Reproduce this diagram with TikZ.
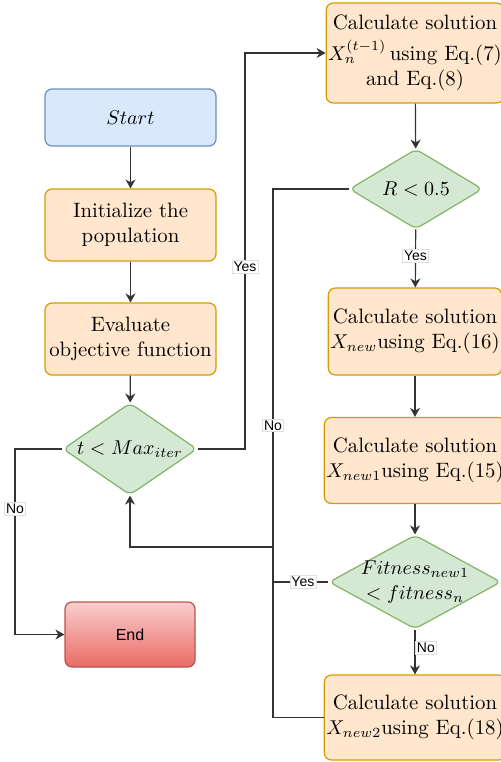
\documentclass[tikz,border=0pt]{standalone}
\usepackage{fontspec}
\newfontfamily\lblfont{Liberation Sans}
\usetikzlibrary{shapes.geometric, arrows.meta}
\definecolor{blfill}{HTML}{DAE8FC}
\definecolor{bldraw}{HTML}{6C8EBF}
\definecolor{orfill}{HTML}{FFE6CC}
\definecolor{ordraw}{HTML}{D79B00}
\definecolor{grfill}{HTML}{D5E8D4}
\definecolor{grdraw}{HTML}{82B366}
\definecolor{rdtop}{HTML}{F8CECC}
\definecolor{rdbot}{HTML}{EA6B66}
\definecolor{rddraw}{HTML}{B85450}
\tikzset{
  procbox/.style={rectangle, rounded corners=3.5pt, draw=ordraw, fill=orfill, line width=0.6pt,
    minimum width=85.5pt, align=center, inner sep=1pt, font=\fontsize{10.4}{12.5}\selectfont},
  decide/.style={diamond, rounded corners=3pt, draw=grdraw, fill=grfill, line width=0.6pt,
    inner sep=0pt, align=center, font=\fontsize{10.4}{12.5}\selectfont},
  lbl/.style={fill=white, draw=gray!25, line width=0.3pt, inner sep=0.8pt, font=\lblfont\fontsize{7}{8}\selectfont},
  flow/.style={->, draw=black!80, line width=0.6pt}
}
\begin{document}
\begin{tikzpicture}[x=0.5pt, y=-0.5pt, >={Stealth[length=4.5pt, width=5pt]}]
\useasboundingbox (0,0) rectangle (501,762);
% left column
\node[procbox, draw=bldraw, fill=blfill, minimum height=28.5pt] (start) at (130.5,117.5) {$Start$};
\node[procbox, minimum height=36pt] (init) at (130.5,225) {Initialize the\\population};
\node[procbox, minimum height=36pt] (eval) at (130.5,339) {Evaluate\\objective function};
\node[decide, shape aspect=1.45, minimum width=67pt, minimum height=46pt] (tmax) at (130,449) {$t < Max_{iter}$};
\node[rectangle, rounded corners=3.5pt, draw=rddraw, line width=0.6pt, top color=rdtop, bottom color=rdbot,
  minimum width=65pt, minimum height=32.5pt, font=\lblfont\fontsize{8}{9}\selectfont] (stop) at (130,634.5) {End};
% right column
\node[procbox, minimum height=50pt] (calc1) at (415,53) {Calculate solution\\[3pt]$X_n^{(t-1)}$\,using Eq.(7)\\and Eq.(8)};
\node[decide, shape aspect=1.66, minimum width=66.5pt, minimum height=40pt] (rdiam) at (416,189) {$R < 0.5$};
\node[procbox, minimum height=43.5pt] (xnew) at (415,331.5) {Calculate solution\\$X_{new}$using Eq.(16)};
\node[procbox, minimum height=43pt] (xnew1) at (415,460.5) {Calculate solution\\$X_{new1}$using Eq.(15)};
\node[decide, shape aspect=1.83, inner sep=-3pt, minimum width=86pt, minimum height=47pt] (fit) at (415,582) {$Fitness_{new1}$\\$< fitness_n$};
\node[procbox, minimum height=42.5pt] (xnew2) at (415,717.5) {Calculate solution\\$X_{new2}$using Eq.(18)};
% bends
\coordinate (yesturn) at (245,53);
\coordinate (noturn) at (15,634.5);
\coordinate (merge) at (273,547);
% edges
\draw[flow] (start) -- (init);
\draw[flow] (init) -- (eval);
\draw[flow] (eval) -- (tmax);
\draw[flow] (tmax.east) -| node[lbl, pos=0.73] {Yes} (yesturn) -- (calc1.west);
\draw[flow] (tmax.west) -| node[lbl, pos=0.66] {No} (noturn) -- (stop.west);
\draw[flow] (calc1) -- (rdiam);
\draw[flow] (rdiam) -- node[lbl, pos=0.46] {Yes} (xnew);
\draw[flow] (xnew) -- (xnew1);
\draw[flow] (xnew1) -- (fit);
\draw[flow] (fit) -- node[lbl, pos=0.4, anchor=west] {No} (xnew2);
\draw[draw=black!80, line width=0.6pt] (rdiam.west) -| node[lbl, pos=0.83] {No} (merge);
\draw[draw=black!80, line width=0.6pt] (fit.west) -| node[lbl, pos=0.23] {Yes} (merge);
\draw[draw=black!80, line width=0.6pt] (xnew2.west) -| (merge);
\draw[flow] (merge) -| (tmax.south);
\end{tikzpicture}
\end{document}
